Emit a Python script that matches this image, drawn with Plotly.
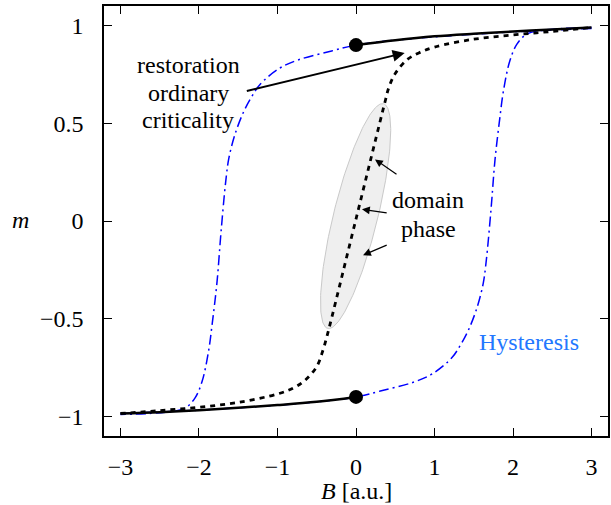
import numpy as np
import plotly.graph_objects as go

# ---------------- data ----------------
# anhysteretic (dotted) curve
anhyst_B = [-3.0, -2.5, -2.0, -1.5, -1.0, -0.8, -0.65, -0.5, -0.42, -0.37, 0.0,
            0.37, 0.42, 0.5, 0.65, 0.8, 1.0, 1.5, 2.0, 2.5, 3.0]
anhyst_m = [-0.985, -0.97, -0.953, -0.928, -0.885, -0.855, -0.815, -0.745, -0.66, -0.59, 0.01,
            0.61, 0.685, 0.755, 0.825, 0.86, 0.89, 0.93, 0.952, 0.97, 0.99]

# hysteresis loop, ascending branch
hyst_up_B = [-3.0, -2.0, -1.0, -0.5, 0.0, 0.31, 0.73, 0.98, 1.22, 1.33, 1.43, 1.54,
             1.62, 1.66, 1.72, 1.77, 1.83, 1.88, 1.96, 2.05, 2.17, 2.35, 3.0]
hyst_up_m = [-0.985, -0.968, -0.942, -0.925, -0.9, -0.87, -0.825, -0.78, -0.70, -0.635, -0.56, -0.445,
             -0.32, -0.2, 0.06, 0.31, 0.52, 0.67, 0.82, 0.905, 0.955, 0.975, 0.99]
# descending branch (mirror of ascending)
hyst_down_B = [-b for b in hyst_up_B]
hyst_down_m = [-m for m in hyst_up_m]

# solid branches (restoration)
upper_B = [0.0, 0.5, 1.0, 1.5, 2.0, 2.5, 3.0]
upper_m = [0.9, 0.925, 0.945, 0.958, 0.969, 0.98, 0.99]
lower_B = [-3.0, -2.5, -2.0, -1.5, -1.0, -0.5, 0.0]
lower_m = [-0.985, -0.978, -0.968, -0.956, -0.942, -0.925, -0.9]

# marked points
dot_B = [0.0, 0.0]
dot_m = [0.9, -0.9]

# domain-phase ellipse: two tips (data units) and width ratio
ell_top = (0.35, 0.60)
ell_bottom = (-0.36, -0.55)
ell_ratio = 0.19

# text labels (data positions)
label_lines_left = ["restoration", "ordinary", "criticality"]
label_left_x = -2.14
label_left_y = [0.80, 0.655, 0.515]
label_lines_mid = ["domain", "phase"]
label_mid_x = 0.92
label_mid_y = [0.105, -0.04]

x_range = [-3.21, 3.21]
y_range = [-1.1, 1.1]
x_ticks = [-3, -2, -1, 0, 1, 2, 3]
y_ticks = [-1, -0.5, 0, 0.5, 1]

# ---------------- figure ----------------
W, H = 611, 505
ML, MR, MT, MB = 104, 3, 6, 69
pw, ph = W - ML - MR, H - MT - MB
sx = pw / (x_range[1] - x_range[0])
sy = ph / (y_range[1] - y_range[0])

# ellipse points computed in pixel-equivalent space
p1 = np.array([ell_top[0] * sx, ell_top[1] * sy])
p2 = np.array([ell_bottom[0] * sx, ell_bottom[1] * sy])
c = (p1 + p2) / 2
major = (p1 - p2) / 2
a = np.linalg.norm(major)
u = major / a
v = np.array([-u[1], u[0]])
t = np.linspace(0, 2 * np.pi, 200)
pts = c[None, :] + np.outer(np.cos(t), major) + np.outer(np.sin(t), v * a * ell_ratio)
ell_x = pts[:, 0] / sx
ell_y = pts[:, 1] / sy

FONT = "Liberation Serif"
BLUE_DASH = "10px,4px,2px,4px"

fig = go.Figure()
fig.add_trace(go.Scatter(x=ell_x, y=ell_y, mode="lines", fill="toself",
                         fillcolor="#efefef", line=dict(color="#c9c9c9", width=1),
                         hoverinfo="skip", showlegend=False))
fig.add_trace(go.Scatter(x=hyst_up_B, y=hyst_up_m, mode="lines", line_shape="spline",
                         line=dict(color="#0000ff", width=1.5, dash=BLUE_DASH),
                         showlegend=False))
fig.add_trace(go.Scatter(x=hyst_down_B, y=hyst_down_m, mode="lines", line_shape="spline",
                         line=dict(color="#0000ff", width=1.5, dash=BLUE_DASH),
                         showlegend=False))
fig.add_trace(go.Scatter(x=anhyst_B, y=anhyst_m, mode="lines", line_shape="spline",
                         line=dict(color="black", width=2.8, dash="5px,5px"),
                         showlegend=False))
fig.add_trace(go.Scatter(x=upper_B, y=upper_m, mode="lines", line_shape="spline",
                         line=dict(color="black", width=2.5), showlegend=False))
fig.add_trace(go.Scatter(x=lower_B, y=lower_m, mode="lines", line_shape="spline",
                         line=dict(color="black", width=2.5), showlegend=False))
fig.add_trace(go.Scatter(x=dot_B, y=dot_m, mode="markers",
                         marker=dict(color="black", size=14), showlegend=False))

def px_to_paper(px, py):
    return (px - ML) / pw, 1 - (py - MT) / ph

mx, my = px_to_paper(20, 220)
bx, by = px_to_paper(356, 491)

txt_font = dict(size=24, color="black", family=FONT)
annotations = []
for s, yy in zip(label_lines_left, label_left_y):
    annotations.append(dict(x=label_left_x, y=yy, text=s, showarrow=False, font=txt_font,
                            xanchor="center", yanchor="middle"))
for s, yy in zip(label_lines_mid, label_mid_y):
    annotations.append(dict(x=label_mid_x, y=yy, text=s, showarrow=False, font=txt_font,
                            xanchor="center", yanchor="middle"))
annotations += [
    dict(x=2.2, y=-0.62, text="Hysteresis", showarrow=False,
         font=dict(size=24, color="#2277ff", family=FONT)),
    dict(x=mx, y=my, xref="paper", yref="paper", text="<i>m</i>", showarrow=False,
         font=txt_font, xanchor="center", yanchor="middle"),
    dict(x=bx, y=by, xref="paper", yref="paper", text="<i>B</i> [a.u.]", showarrow=False,
         font=txt_font, xanchor="center", yanchor="middle"),
    # big arrow
    dict(x=0.62, y=0.86, ax=-1.41, ay=0.663, axref="x", ayref="y", xref="x", yref="y",
         text="", showarrow=True, arrowhead=2, arrowsize=1.2, arrowwidth=2, arrowcolor="black",
         standoff=0),
    # small arrows
    dict(x=0.242, y=0.315, ax=0.535, ay=0.234, axref="x", ayref="y", xref="x", yref="y",
         text="", showarrow=True, arrowhead=2, arrowsize=1.3, arrowwidth=1.2, arrowcolor="black",
         standoff=0),
    dict(x=0.076, y=0.06, ax=0.41, ay=0.04, axref="x", ayref="y", xref="x", yref="y",
         text="", showarrow=True, arrowhead=2, arrowsize=1.3, arrowwidth=1.2, arrowcolor="black",
         standoff=0),
    dict(x=0.09, y=-0.175, ax=0.41, ay=-0.12, axref="x", ayref="y", xref="x", yref="y",
         text="", showarrow=True, arrowhead=2, arrowsize=1.3, arrowwidth=1.2, arrowcolor="black",
         standoff=0),
]

axis_common = dict(showgrid=False, zeroline=False, showline=True, linecolor="black",
                   linewidth=1.5, mirror="ticks", ticks="inside", ticklen=8, tickwidth=1,
                   tickcolor="black", automargin=False,
                   tickfont=dict(size=24, color="black", family=FONT))

fig.update_layout(
    width=W, height=H,
    margin=dict(l=ML, r=MR, t=MT, b=MB),
    paper_bgcolor="white", plot_bgcolor="white",
    font=dict(family=FONT),
    hovermode=False,
    xaxis=dict(range=x_range, tickvals=x_ticks, ticklabelstandoff=8, **axis_common),
    yaxis=dict(range=y_range, tickvals=y_ticks, ticklabelstandoff=14, **axis_common),
    annotations=annotations,
)

fig.write_html("out.html", config={"displayModeBar": False},
               post_script="document.body.style.margin='0';")
